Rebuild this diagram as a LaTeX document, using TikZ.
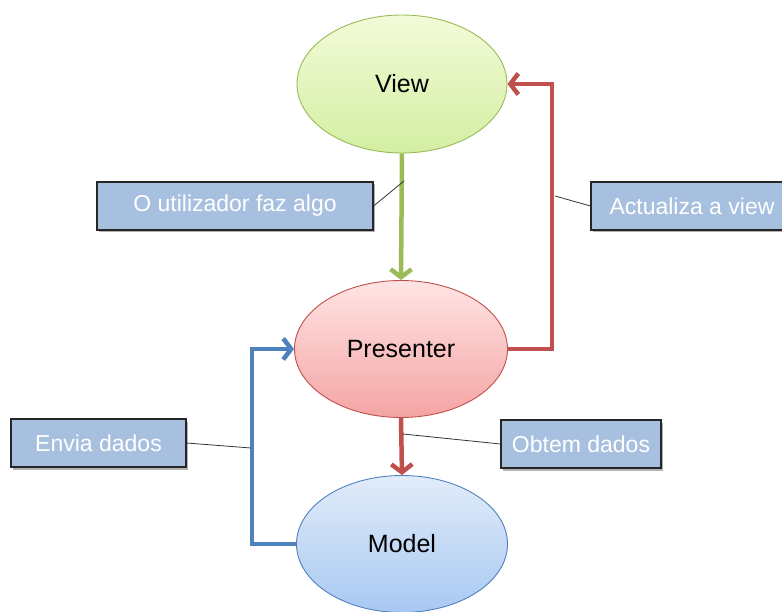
\documentclass[tikz,border=0pt]{standalone}
\usepackage{fontspec}
\setmainfont{Liberation Sans}
\usetikzlibrary{arrows.meta, shapes.geometric, shadows}
\definecolor{vline}{HTML}{9BBB59}
\definecolor{pline}{HTML}{C0504D}
\definecolor{mline}{HTML}{4F81BD}
\definecolor{vtop}{HTML}{F3FBD8}
\definecolor{vbot}{HTML}{D3EEA2}
\definecolor{ptop}{HTML}{FFE4E4}
\definecolor{pbot}{HTML}{F4A4A4}
\definecolor{mtop}{HTML}{E2ECFA}
\definecolor{mbot}{HTML}{A8C8F2}
\definecolor{lblfill}{HTML}{A8C0E0}
\tikzset{
    ell/.style={ellipse, draw, line width=0.9pt, inner sep=0pt, minimum width=210pt, minimum height=138pt, font=\fontsize{25}{29}\selectfont},
    lbl/.style={draw=black!85, line width=1.1pt, fill=lblfill, text=white, minimum height=48pt, inner sep=0pt, font=\fontsize{23}{27}\selectfont,
        drop shadow={shadow xshift=2pt, shadow yshift=-2.5pt, fill=black, opacity=0.3}},
    flow/.style={line width=4.5pt, -{Straight Barb[length=8pt, width=21pt]}},
    cl/.style={line width=0.8pt, black!80}
}

\begin{document}
\begin{tikzpicture}[x=1pt, y=-1pt]
        \useasboundingbox (0,0) rectangle (782,612);
        \node[ell, draw=vline, top color=vtop, bottom color=vbot] (view) at (402,84) {View};
        \node[ell, draw=pline, top color=ptop, bottom color=pbot, minimum width=213pt, minimum height=137pt] (pres) at (401,349) {Presenter};
        \node[ell, draw=mline, top color=mtop, bottom color=mbot, minimum width=211pt, minimum height=137pt] (model) at (402,544) {Model};

        \node[lbl, minimum width=276pt] (user) at (235,206) {O utilizador faz algo};
        \node[lbl, minimum width=202pt] (upd) at (692,206) {Actualiza a view};
        \node[lbl, minimum width=175pt] (send) at (98.5,443) {Envia dados};
        \node[lbl, minimum width=160pt] (get) at (581,444) {Obtem dados};

        \draw[flow, vline] (view.south) -- (pres.north);
        \draw[flow, pline] (pres.east) -- ++(44,0) |- (view.east);
        \draw[flow, pline] (pres.south) -- (model.north);
        \draw[flow, mline] (model.west) -- ++(-44,0) |- (pres.west);

        \coordinate (tu) at (404,181);
        \coordinate (tr) at (555,196);
        \coordinate (tb) at (251,448);
        \coordinate (td) at (403,434);
        \draw[cl] (user.east) -- (tu);
        \draw[cl] (upd.west) -- (tr);
        \draw[cl] (send.east) -- (tb);
        \draw[cl] (get.west) -- (td);
    \end{tikzpicture}
\end{document}
